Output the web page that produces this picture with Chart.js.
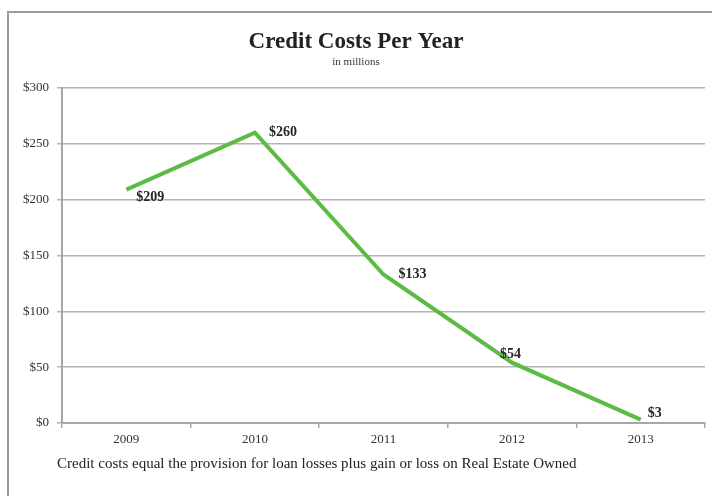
<!DOCTYPE html>
<html>
<head>
<meta charset="utf-8">
<script src="https://cdn.jsdelivr.net/npm/chart.js@4/dist/chart.umd.min.js"></script>
<style>
  html, body { margin: 0; padding: 0; background: #fff; }
  #wrap { position: relative; width: 712px; height: 496px; overflow: hidden; }
  #frame { position: absolute; left: 7px; top: 11px; width: 720px; height: 500px;
           border-left: 2px solid #9a9a9a; border-top: 2px solid #9a9a9a; box-sizing: border-box; }
  #note { position: absolute; left: 57px; top: 455px; font: 15px "Liberation Serif", serif; color: #222; }
  canvas { position: absolute; left: 0; top: 0; }
</style>
</head>
<body>
<div id="wrap">
  <div id="frame"></div>
  <canvas id="chartCredit" width="712" height="496"></canvas>
  <div id="note">Credit costs equal the provision for loan losses plus gain or loss on Real Estate Owned</div>
</div>
<script>
// data
var anos = ['2009', '2010', '2011', '2012', '2013'];
var custos = [209, 260, 133, 54, 3];
var rotulosCustos = ['$209', '$260', '$133', '$54', '$3'];
var ticksY = [0, 50, 100, 150, 200, 250, 300];

var serif = '"Liberation Serif", "DejaVu Serif", serif';

// where each value label sits relative to its point
var deslocamentos = [[10, 8], [14, 0], [15, 0], [-12, -8], [7, -6]];

var pluginRotulos = {
	id: 'rotulos',
	afterDatasetsDraw: function(chart){
		var ctx = chart.ctx;
		var x = chart.scales.x, y = chart.scales.y;
		ctx.save();
		ctx.font = 'bold 14px ' + serif;
		ctx.fillStyle = '#262626';
		ctx.textAlign = 'left';
		ctx.textBaseline = 'middle';
		for (var i = 0; i < custos.length; i++) {
			var px = x.getPixelForValue(i);
			var py = y.getPixelForValue(custos[i]);
			ctx.fillText(rotulosCustos[i], px + deslocamentos[i][0], py + deslocamentos[i][1]);
		}
		ctx.restore();
	}
};

var pluginTitulo = {
	id: 'titulo',
	afterDraw: function(chart){
		var ctx = chart.ctx;
		ctx.save();
		ctx.textAlign = 'center';
		ctx.textBaseline = 'middle';
		ctx.fillStyle = '#222';
		ctx.font = 'bold 23px ' + serif;
		ctx.fillText('Credit Costs Per Year', 356, 42);
		ctx.fillStyle = '#333';
		ctx.font = '11px ' + serif;
		ctx.fillText('in millions', 356, 62);
		ctx.restore();
	}
};

var grafico = new Chart(document.getElementById('chartCredit'), {
	type: 'line',
	data: {
		labels: anos,
		datasets: [{
			data: custos,
			borderColor: '#5cbb45',
			borderWidth: 4,
			pointRadius: 0,
			tension: 0,
			fill: false
		}]
	},
	options: {
		responsive: false,
		animation: false,
		layout: { padding: { top: 88, right: 7, bottom: 40, left: 0 } },
		plugins: { legend: { display: false }, tooltip: { enabled: false } },
		scales: {
			x: {
				offset: true,
				grid: { offset: true, drawOnChartArea: false, drawTicks: true, tickLength: 5, color: '#a6a6a6', lineWidth: 1.5 },
				border: { color: '#a6a6a6', width: 2 },
				ticks: { font: { family: serif, size: 13 }, color: '#333', padding: 4, maxRotation: 0 },
				afterFit: function(s){ s.height = 33; }
			},
			y: {
				min: 0,
				max: 300,
				afterBuildTicks: function(s){ s.ticks = ticksY.map(function(v){ return { value: v }; }); },
				grid: { color: '#b4b4b4', lineWidth: 1.5, tickLength: 5 },
				border: { color: '#a6a6a6', width: 2 },
				ticks: {
					font: { family: serif, size: 13 }, color: '#333', padding: 8,
					callback: function(v){ return '$' + v; }
				},
				afterFit: function(s){ s.width = 62; }
			}
		}
	},
	plugins: [pluginRotulos, pluginTitulo]
});
</script>
</body>
</html>
